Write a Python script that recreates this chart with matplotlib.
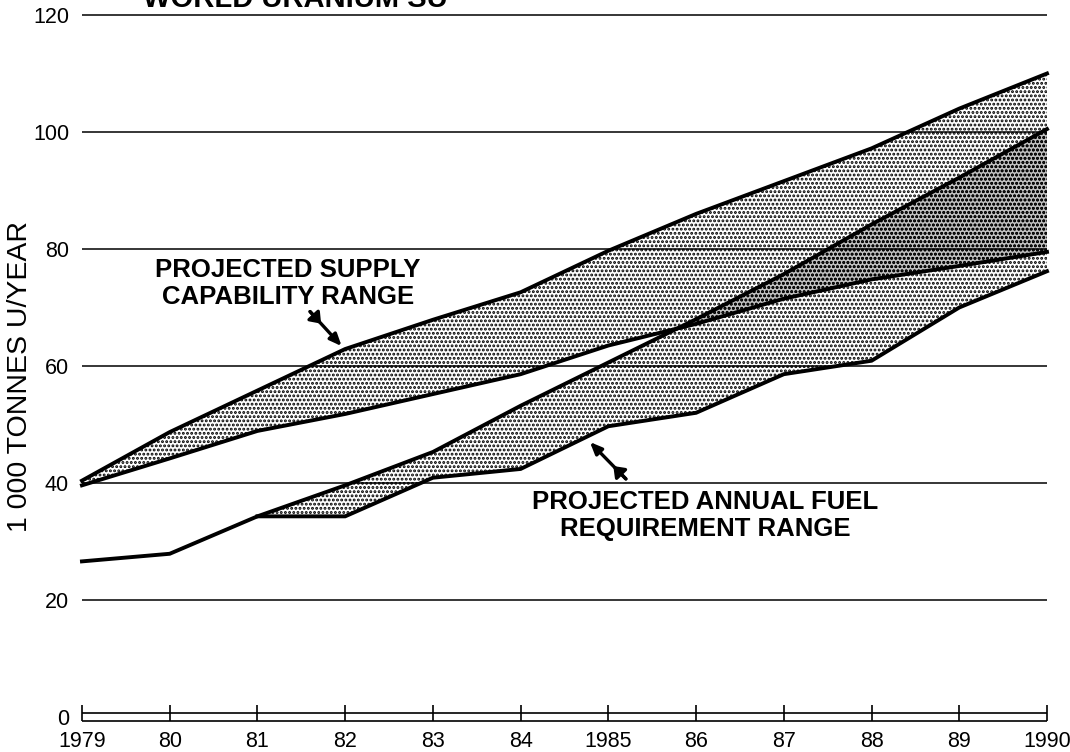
import numpy as np
import matplotlib.pyplot as plt

plt.rcParams['font.family'] = ['Liberation Sans', 'DejaVu Sans']
plt.rcParams['hatch.linewidth'] = 1.4

years = [1979, 1980, 1981, 1982, 1983, 1984, 1985, 1986, 1987, 1988, 1989, 1990]
year_labels = ["1979", "80", "81", "82", "83", "84", "1985", "86", "87", "88", "89", "1990"]

# supply capability range (1 000 t U / year)
supply_high = [40.4, 48.7, 55.8, 62.9, 67.9, 72.6, 79.7, 86.0, 91.6, 97.2, 104.0, 110.0]
supply_low = [39.6, 44.2, 48.9, 51.8, 55.2, 58.6, 63.5, 67.2, 71.5, 74.8, 77.1, 79.5]

# annual fuel requirement range, single line until 1981
fuel_high = [26.6, 27.9, 34.3, 39.6, 45.3, 53.2, 60.6, 68.0, 75.7, 84.2, 92.2, 100.5]
fuel_low_years = [1981, 1982, 1983, 1984, 1985, 1986, 1987, 1988, 1989, 1990]
fuel_low = [34.3, 34.3, 40.9, 42.4, 49.7, 52.0, 58.6, 60.9, 70.0, 76.2]

yticks = [0, 20, 40, 60, 80, 100, 120]

fig = plt.figure(figsize=(10.7, 7.52), dpi=100)
ax = fig.add_axes([0.0684, 0.031, 0.9183, 0.9646])
ax.set_xlim(1978.9, 1990.1)
ax.set_ylim(-2, 122)
for s in ax.spines.values():
    s.set_visible(False)

# where the two ranges overlap the screen gets darker
xs = np.linspace(fuel_low_years[0], years[-1], 600)
lo = np.maximum(np.interp(xs, fuel_low_years, fuel_low), np.interp(xs, years, supply_low))
hi = np.minimum(np.interp(xs, years, fuel_high), np.interp(xs, years, supply_high))
ax.fill_between(xs, lo, hi, where=hi > lo, facecolor='#c0c0c0', linewidth=0, zorder=0.5)

# stippled bands
ax.fill_between(years, supply_low, supply_high, facecolor='none', edgecolor='black',
                hatch='....', linewidth=0, zorder=1)
fuel_high_arr = np.array(fuel_high)
ax.fill_between(fuel_low_years, fuel_low, fuel_high_arr[2:], facecolor='none',
                edgecolor='black', hatch='....', linewidth=0, zorder=1)

# grid lines
ax.hlines(yticks[1:], years[0], years[-1], color='black', lw=1.1, zorder=2)

# double base line with year ticks
ax.hlines([-0.65, 0.65], years[0], years[-1], color='black', lw=1.2, zorder=2)
ax.vlines(years, -0.65, 2.0, color='black', lw=1.2, zorder=2)

lw = 2.8
ax.plot(years, supply_high, color='black', lw=lw, solid_joinstyle='miter', zorder=3)
ax.plot(years, supply_low, color='black', lw=lw, solid_joinstyle='miter', zorder=3)
ax.plot(years, fuel_high, color='black', lw=lw, solid_joinstyle='miter', zorder=3)
ax.plot(fuel_low_years, fuel_low, color='black', lw=lw, solid_joinstyle='miter', zorder=3)

ax.set_xticks(years)
ax.set_xticklabels(year_labels)
ax.set_yticks(yticks)
ax.set_yticklabels([str(v) for v in yticks])
ax.tick_params(length=0, labelsize=15.5, pad=2)
ax.tick_params(axis='y', pad=3)

fig.text(0.019, 0.5, "1 000 TONNES U/YEAR", rotation=90, ha='center', va='center',
         fontsize=20.5)

# title, clipped by the top edge
fig.text(0.134, 0.9905, "WORLD URANIUM SU", ha='left', va='baseline',
         fontsize=21, fontweight='bold')


def feathered_arrow(tail, head):
    tail = np.array(tail)
    head = np.array(head)
    ax.annotate("", xy=head, xytext=tail,
                arrowprops=dict(arrowstyle='-|>,head_length=0.7,head_width=0.3',
                                color='black', lw=2.4, shrinkA=0, shrinkB=0), zorder=4)
    ax.annotate("", xy=tail + 0.35 * (head - tail), xytext=tail,
                arrowprops=dict(arrowstyle='-|>,head_length=0.6,head_width=0.45',
                                color='black', lw=2.4, shrinkA=0, shrinkB=0), zorder=4)


ax.text(1981.35, 74.1, "PROJECTED SUPPLY\nCAPABILITY RANGE", ha='center', va='center',
        fontsize=18.5, fontweight='bold', linespacing=1.15, zorder=4)
feathered_arrow((1981.6, 69.3), (1981.96, 63.4))

ax.text(1986.1, 34.5, "PROJECTED ANNUAL FUEL\nREQUIREMENT RANGE", ha='center', va='center',
        fontsize=18.5, fontweight='bold', linespacing=1.15, zorder=4)
feathered_arrow((1985.2, 40.7), (1984.79, 47.0))

fig.savefig("out.png", dpi=100, facecolor='white')
